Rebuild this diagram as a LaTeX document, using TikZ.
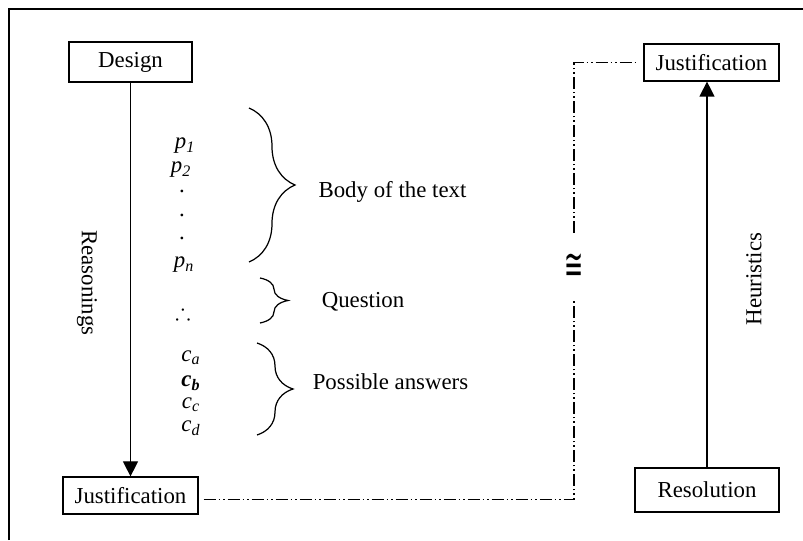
\documentclass[tikz,border=0pt]{standalone}
\usepackage{amsmath, amssymb}
\usepackage{fontspec}
\setmainfont{Liberation Serif}
\newfontfamily\symfont{DejaVu Sans}
\usetikzlibrary{arrows.meta,positioning,calc,decorations.pathreplacing}

\begin{document}
\begin{tikzpicture}[
    font=\fontsize{13}{15.6}\selectfont,
    box/.style={rectangle, draw, line width=0.7pt, minimum height=0.74cm, inner sep=0pt, align=center},
    arrow/.style={-{Triangle[length=0.3cm, width=0.3cm]}, line width=0.7pt},
    linkline/.style={line width=0.7pt, dash pattern=on 0.24cm off 0.06cm on 0.03cm off 0.06cm on 0.03cm off 0.06cm},
    curly/.style={decorate, decoration={brace, amplitude=#1}, line width=0.7pt},
    item/.style={inner sep=0pt}
]
\useasboundingbox (0,0) rectangle (16.06,10.8);

% Frame
\draw[line width=0.7pt] (0.18,0) |- (16.06,10.62);

% Boxes
\node[box, minimum width=2.46cm, minimum height=0.8cm] (design) at (2.61, 9.56) {Design};
\node[box, minimum width=2.7cm] (jl) at (2.61, 0.89) {Justification};
\node[box, minimum width=2.7cm] (jr) at (14.23, 9.55) {Justification};
\node[box, minimum width=2.88cm, minimum height=0.88cm] (resol) at (14.14, 1.0) {Resolution};

% Side labels
\node[rotate=-90] (reason) at (1.74, 5.14) {Reasonings};
\node[rotate=90] (heur) at (15.08, 5.22) {Heuristics};

% Congruence sign
\node[inner sep=0pt] (cong) at (11.48, 5.46) {\scalebox{1}[1.9]{\symfont ≅}};

% Premises, question and answers
\node[item] (p1) at (3.7, 7.88) {\textit{p}\textsubscript{\textit{1}}};
\node[item] (p2) at (3.62, 7.4) {\textit{p}\textsubscript{\textit{2}}};
\node[item] (dot1) at (3.64, 6.98) {.};
\node[item] (dot2) at (3.64, 6.5) {.};
\node[item] (dot3) at (3.64, 6.04) {.};
\node[item] (pn) at (3.68, 5.5) {\textit{p}\textsubscript{\textit{n}}};
\node[item] (therefore) at (3.66, 4.56) {$\therefore$};
\node[item] (ca) at (3.82, 3.64) {\textit{c}\textsubscript{\textit{a}}};
\node[item] (cb) at (3.82, 3.14) {\textbf{\textit{c}}\textsubscript{\textbf{\textit{b}}}};
\node[item] (cc) at (3.82, 2.7) {\textit{c}\textsubscript{\textit{c}}};
\node[item] (cd) at (3.82, 2.24) {\textit{c}\textsubscript{\textit{d}}};

% Braces
\draw[curly=0.92cm] (4.98, 8.64) -- (4.98, 5.56);
\draw[curly=0.56cm] (5.2, 5.24) -- (5.2, 4.34);
\draw[curly=0.72cm] (5.14, 3.94) -- (5.14, 2.1);

\node (body) at (7.85, 6.96) {Body of the text};
\node (question) at (7.26, 4.76) {Question};
\node (answers) at (7.81, 3.16) {Possible answers};

% Arrows
\draw[arrow] (design) -- (jl);
\draw[arrow] (resol.north) -- (resol.north |- jr.south);
\draw[linkline] ([xshift=0.1cm, yshift=-0.08cm]jl.east) -| ([yshift=-0.66cm]cong.center);
\draw[linkline] ([yshift=0.68cm]cong.center) |- ([xshift=-0.12cm]jr.west);

\end{tikzpicture}
\end{document}
